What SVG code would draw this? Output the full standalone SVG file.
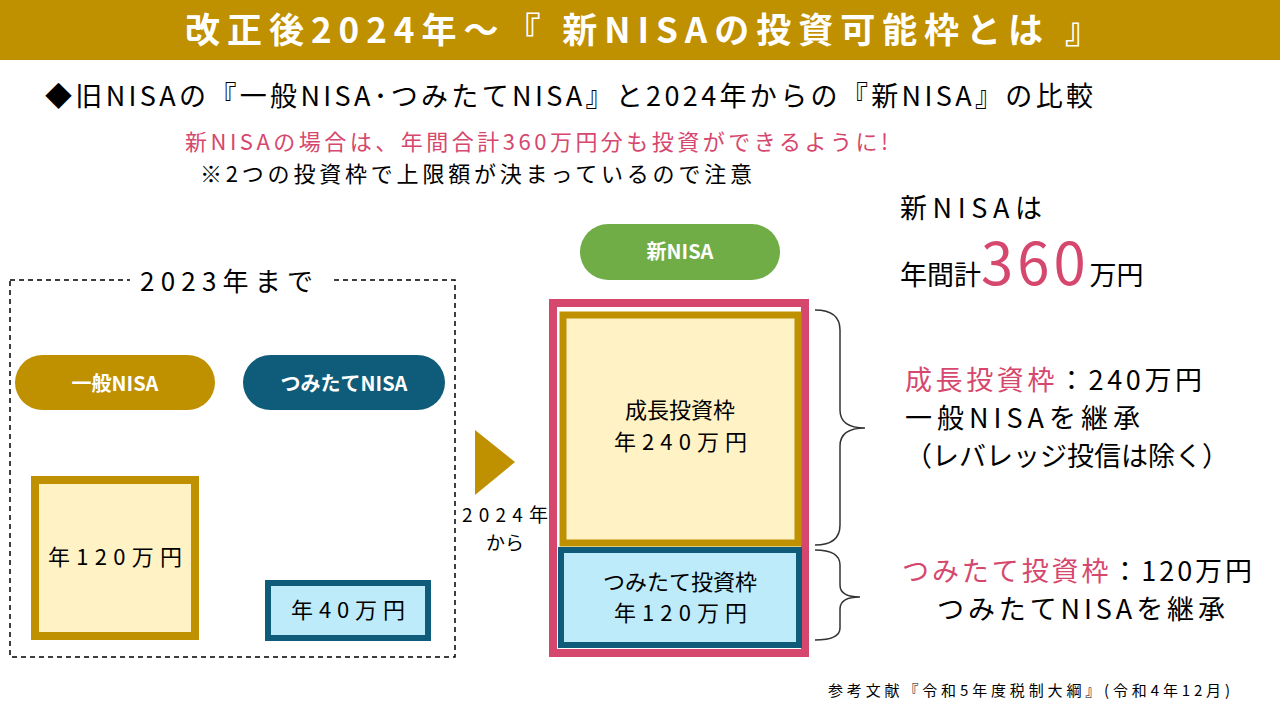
<svg xmlns="http://www.w3.org/2000/svg" width="1280" height="720" viewBox="0 0 1280 720">
<style>
text{font-family:"Noto Sans CJK JP","Noto Sans",sans-serif;fill:#000}
.w{fill:#fff;font-weight:bold}
.pk{fill:#D6476D}
.gold{fill:#FFF2C5;stroke:#BF9000}
.blue{fill:#BDEBFA;stroke:#0E5C7A}
.brace{fill:none;stroke:#333;stroke-width:1.5}
</style>
<rect width="1280" height="720" fill="#fff"/>
<g id="title"><rect x="0" y="0" width="1280" height="60" fill="#BF9000"/>
<text x="185" y="43" font-size="35" class="w" textLength="915" lengthAdjust="spacing">改正後2024年～『 新NISAの投資可能枠とは 』</text></g>
<text x="45" y="106" font-size="27" textLength="1048" lengthAdjust="spacing">◆旧NISAの『一般NISA･つみたてNISA』と2024年からの『新NISA』の比較</text>
<text x="185" y="150" font-size="22" class="pk" textLength="703" lengthAdjust="spacing">新NISAの場合は、年間合計360万円分も投資ができるように!</text>
<text x="200" y="182" font-size="22" textLength="552" lengthAdjust="spacing">※2つの投資枠で上限額が決まっているので注意</text>
<g id="old">
<rect x="10" y="280" width="445" height="377" fill="none" stroke="#000" stroke-width="1.5" stroke-dasharray="5,4"/>
<rect x="130" y="264" width="200" height="34" fill="#fff"/>
<text x="140" y="291" font-size="26" textLength="173" lengthAdjust="spacing">2023年まで</text>
</g>
<g id="ippan"><rect x="15" y="355" width="200" height="55" rx="27.5" fill="#BF9000"/><text x="115" y="391" font-size="20" text-anchor="middle" class="w">一般NISA</text></g>
<g id="tsumitate"><rect x="243" y="355" width="202" height="55" rx="27.5" fill="#0E5C7A"/><text x="344" y="391" font-size="20" text-anchor="middle" class="w">つみたてNISA</text></g>
<g id="box120"><rect x="35" y="480" width="160" height="156" class="gold" stroke-width="8"/><text x="48" y="565" font-size="22" textLength="134" lengthAdjust="spacing">年120万円</text></g>
<g id="box40"><rect x="268" y="583" width="160" height="55" class="blue" stroke-width="6"/><text x="291" y="618" font-size="22" textLength="114" lengthAdjust="spacing">年40万円</text></g>
<g id="connectors">
<polygon points="475,430 515,462 475,495" fill="#BF9000"/>
<path class="brace" d="M815,310 Q840,310 840,330 L840,410 Q840,428 865,428 Q840,428 840,446 L840,525 Q840,545 815,545"/>
<path class="brace" d="M815,550 Q840,550 840,565 L840,585 Q840,597 860,597 Q840,597 840,609 L840,628 Q840,640 815,640"/>
</g>
<text x="462" y="522" font-size="19" textLength="86" lengthAdjust="spacing">2024年</text>
<text x="505" y="550" font-size="19" text-anchor="middle">から</text>
<g id="newnisa"><rect x="580" y="224" width="200" height="56" rx="28" fill="#70AD47"/><text x="680" y="259" font-size="20" text-anchor="middle" class="w">新NISA</text></g>
<g id="newbox"><rect x="553" y="303" width="252" height="350" fill="none" stroke="#D6476D" stroke-width="8"/></g>
<g id="seicho"><rect x="563" y="315" width="235" height="228" class="gold" stroke-width="7"/>
<text x="680" y="418" font-size="22" text-anchor="middle">成長投資枠</text><text x="614" y="450" font-size="22" textLength="133" lengthAdjust="spacing">年240万円</text></g>
<g id="tsumiwaku"><rect x="561" y="550" width="238" height="95" class="blue" stroke-width="6"/>
<text x="680" y="590" font-size="22" text-anchor="middle">つみたて投資枠</text><text x="614" y="621" font-size="22" textLength="133" lengthAdjust="spacing">年120万円</text></g>
<text x="900" y="218" font-size="27" textLength="142" lengthAdjust="spacing">新NISAは</text>
<text x="900" y="285" font-size="27">年間計<tspan class="pk" font-size="58" letter-spacing="4">360</tspan>万円</text>
<text x="905" y="390" font-size="27" textLength="297" lengthAdjust="spacing"><tspan class="pk">成長投資枠</tspan>：240万円</text>
<text x="905" y="428" font-size="27" textLength="235" lengthAdjust="spacing">一般NISAを継承</text>
<text x="905" y="466" font-size="27">（レバレッジ投信は除く）</text>
<text x="902" y="581" font-size="27" textLength="350" lengthAdjust="spacing"><tspan class="pk">つみたて投資枠</tspan>：120万円</text>
<text x="937" y="619" font-size="27" textLength="288" lengthAdjust="spacing">つみたてNISAを継承</text>
<text x="828" y="696" font-size="15" textLength="402" lengthAdjust="spacing">参考文献『令和5年度税制大綱』(令和4年12月)</text>
</svg>
